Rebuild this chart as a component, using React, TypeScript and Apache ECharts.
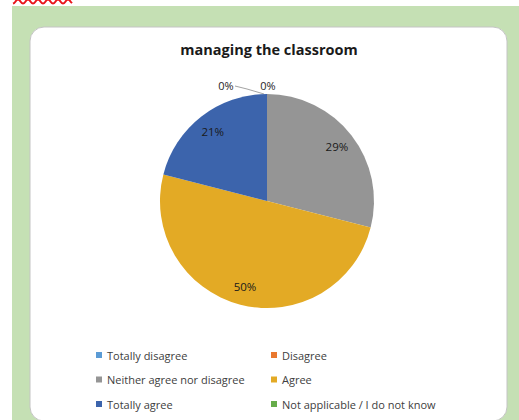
import React, { useEffect, useRef } from "react";
import * as echarts from "echarts";

const title = "managing the classroom";
const categories = [
  "Totally disagree",
  "Disagree",
  "Neither agree nor disagree",
  "Agree",
  "Totally agree",
  "Not applicable / I do not know",
];
const values = [0, 0, 29, 50, 21, 0];
const colors = ["#5B9BD5", "#E9782F", "#959595", "#E3AA25", "#3C64AC", "#66AC4A"];
const showZeroLabel = [true, true, false, false, false, false];
const legendLeftColumn = [categories[0], categories[2], categories[4]];
const legendRightColumn = [categories[1], categories[3], categories[5]];

const FONT = "'Open Sans', 'Liberation Sans', sans-serif";

function wavePoints(x0: number, x1: number, y: number, amp: number, period: number) {
  const pts: number[][] = [];
  for (let x = x0; x <= x1; x += 1) {
    pts.push([x, y + amp * Math.cos(((x - x0) / period) * Math.PI * 2)]);
  }
  return pts;
}

export default function App() {
  const ref = useRef<HTMLDivElement>(null);

  useEffect(() => {
    if (!ref.current) return;
    const chart = echarts.init(ref.current, undefined, { renderer: "svg" });

    const center = [267, 201];
    const radius = 107;

    const mainData = categories.map((name, i) => ({
      name,
      value: values[i],
      itemStyle: { color: colors[i] },
      label: { show: showZeroLabel[i] },
      labelLine: { show: i === 0 },
    }));

    const labelData = categories.map((name, i) => ({
      name,
      value: values[i],
      label: { show: values[i] > 0 },
    }));

    const legendText = { fontFamily: FONT, fontSize: 11, color: "#404040", lineHeight: 14 };

    chart.setOption({
      animation: false,
      backgroundColor: "#ffffff",
      graphic: [
        {
          type: "rect",
          shape: { x: 12, y: 6, width: 520, height: 420 },
          style: { fill: "#C5E0B4" },
          z: -10,
        },
        {
          type: "rect",
          shape: { x: 30, y: 27, width: 477, height: 394, r: 14 },
          style: { fill: "#ffffff", stroke: "#c4c4c4", lineWidth: 1 },
          z: -9,
        },
        {
          type: "polyline",
          shape: { points: wavePoints(13, 72, 1.5, 2, 10) },
          style: { stroke: "#E8141B", lineWidth: 2, fill: "none" },
          z: 10,
        },
      ],
      title: {
        text: title,
        left: 264,
        textAlign: "center",
        top: 37,
        textStyle: {
          fontFamily: FONT,
          fontSize: 14.5,
          fontWeight: "bold",
          color: "#1a1a1a",
        },
      },
      legend: [
        {
          orient: "vertical",
          left: 91,
          top: 343,
          height: 90,
          itemWidth: 6,
          itemHeight: 6,
          itemGap: 10.5,
          icon: "rect",
          data: legendLeftColumn,
          textStyle: legendText,
        },
        {
          orient: "vertical",
          left: 266,
          top: 343,
          height: 90,
          itemWidth: 6,
          itemHeight: 6,
          itemGap: 10.5,
          icon: "rect",
          data: legendRightColumn,
          textStyle: legendText,
        },
      ],
      series: [
        {
          type: "pie",
          center,
          radius: [0, radius],
          startAngle: 90,
          clockwise: true,
          avoidLabelOverlap: false,
          stillShowZeroSum: true,
          itemStyle: { borderWidth: 0 },
          emphasis: { disabled: true },
          label: {
            position: "outside",
            formatter: "{d}%",
            fontFamily: FONT,
            fontSize: 11,
            color: "#262626",
          },
          labelLine: {
            show: false,
            length: 4,
            length2: 0,
            lineStyle: { color: "#8c8c8c", width: 0.8 },
          },
          labelLayout: (p: any) => {
            const topX = p.rect.x;
            const topY = p.rect.y;
            if (p.dataIndex === 0) {
              return {
                x: topX - 41,
                y: topY - 9,
                align: "center",
                verticalAlign: "middle",
                labelLinePoints: [
                  [topX - 32, topY - 8],
                  [topX - 20, topY - 5],
                  [topX - 3, topY],
                ],
              };
            }
            return {
              x: topX + 1,
              y: topY - 9,
              align: "center",
              verticalAlign: "middle",
            };
          },
          data: mainData,
        },
        {
          type: "pie",
          center,
          radius: [64, radius],
          startAngle: 90,
          clockwise: true,
          silent: true,
          stillShowZeroSum: true,
          itemStyle: { color: "transparent", borderWidth: 0 },
          emphasis: { disabled: true },
          label: {
            position: "inside",
            formatter: "{d}%",
            fontFamily: FONT,
            fontSize: 11.5,
            color: "#1a1a1a",
          },
          labelLine: { show: false },
          data: labelData,
        },
      ],
    });

    return () => chart.dispose();
  }, []);

  return (
    <div
      ref={ref}
      style={{ position: "fixed", left: 0, top: 0, width: 519, height: 420 }}
    />
  );
}
